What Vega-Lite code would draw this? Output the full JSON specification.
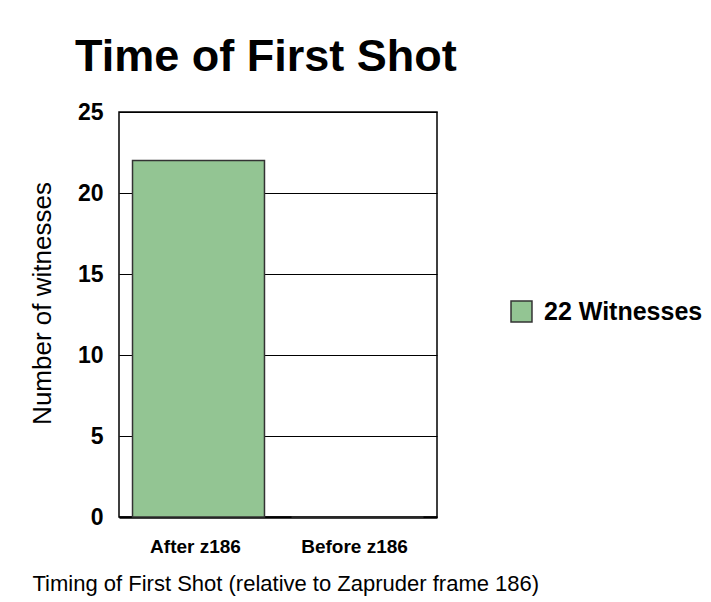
{
  "$schema": "https://vega.github.io/schema/vega-lite/v6.json",
  "width": 318,
  "height": 405,
  "autosize": {"type": "none"},
  "padding": {"left": 119, "top": 112, "right": 274, "bottom": 85},
  "background": "white",
  "title": {
    "text": "Time of First Shot",
    "font": "Liberation Sans",
    "fontSize": 45,
    "fontWeight": "bold",
    "color": "black",
    "anchor": "start",
    "frame": "group",
    "dx": -44,
    "dy": 49,
    "baseline": "alphabetic",
    "offset": 34
  },
  "data": {
    "values": [
      {"timing": "After z186", "witnesses": 22, "series": "22 Witnesses"},
      {"timing": "Before z186", "witnesses": 0, "series": "22 Witnesses"}
    ]
  },
  "mark": {"type": "bar", "stroke": "#333333", "strokeWidth": 1.5},
  "encoding": {
    "x": {
      "field": "timing",
      "type": "nominal",
      "sort": null,
      "scale": {"paddingInner": 0.17, "paddingOuter": 0.085},
      "axis": {
        "labelAngle": 0,
        "labelFont": "Liberation Sans",
        "labelFontSize": 19,
        "labelFontWeight": "bold",
        "labelColor": "black",
        "labelPadding": 20,
        "labelOffset": -3,
        "ticks": false,
        "domainColor": "black",
        "domainWidth": 2.5,
        "title": "Timing of First Shot (relative to Zapruder frame 186)",
        "titleFont": "Liberation Sans",
        "titleFontSize": 22,
        "titleFontWeight": "normal",
        "titleColor": "black",
        "titleAnchor": "start",
        "titleAlign": "left",
        "titleBaseline": "alphabetic",
        "titleX": -87,
        "titleY": 73
      }
    },
    "y": {
      "field": "witnesses",
      "type": "quantitative",
      "scale": {"domain": [0, 25], "nice": false},
      "axis": {
        "values": [0, 5, 10, 15, 20, 25],
        "labelFont": "Liberation Sans",
        "labelFontSize": 23,
        "labelFontWeight": "bold",
        "labelColor": "black",
        "labelPadding": 16,
        "ticks": false,
        "domain": false,
        "grid": true,
        "gridColor": "black",
        "gridWidth": 1.2,
        "gridOpacity": 1,
        "title": "Number of witnesses",
        "titleFont": "Liberation Sans",
        "titleFontSize": 26,
        "titleFontWeight": "normal",
        "titleColor": "black",
        "titleAngle": -90,
        "titleAlign": "center",
        "titleBaseline": "middle",
        "titleX": -77,
        "titleY": 191
      }
    },
    "color": {
      "field": "series",
      "type": "nominal",
      "scale": {"range": ["#93c593"]},
      "legend": {
        "title": null,
        "orient": "none",
        "legendX": 390,
        "legendY": 187,
        "symbolType": "square",
        "symbolSize": 440,
        "symbolStrokeColor": "#333333",
        "symbolStrokeWidth": 1.5,
        "symbolFillColor": "#93c593",
        "symbolOpacity": 1,
        "labelFont": "Liberation Sans",
        "labelFontSize": 25,
        "labelFontWeight": "bold",
        "labelColor": "black",
        "labelOffset": 10,
        "labelLimit": 300
      }
    }
  },
  "config": {
    "view": {"stroke": "black", "strokeWidth": 1.5}
  }
}
